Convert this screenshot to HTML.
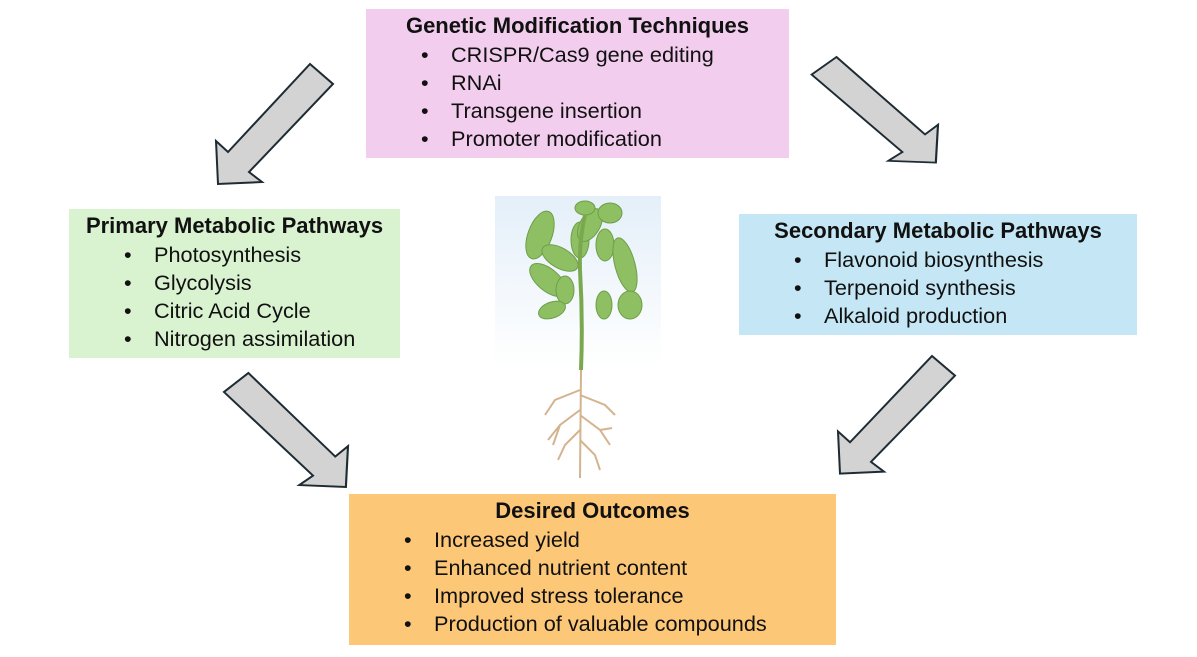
<!DOCTYPE html>
<html><head><meta charset="utf-8"><style>
body{margin:0;width:1197px;height:657px;background:#fff;position:relative;overflow:hidden;font-family:"Liberation Sans",sans-serif;color:#111}
.b{position:absolute;font-size:21.7px;line-height:28px}
.t{font-weight:bold;text-align:center;padding-top:3px;font-size:22px;white-space:nowrap}
.l{position:absolute;white-space:nowrap}
.l span{position:absolute;left:-30px}
</style></head><body>
<svg width="1197" height="657" style="position:absolute;left:0;top:0">
<defs><polygon id="ar" points="94,0 117,20 33,108 46,118 2,120 0,77 12,88" fill="#d3d3d3" stroke="#1e2b33" stroke-width="2" stroke-linejoin="miter"/>
<linearGradient id="sky" x1="0" y1="0" x2="0" y2="1"><stop offset="0" stop-color="#e4eff9"/><stop offset="0.6" stop-color="#fff"/></linearGradient></defs>
<use href="#ar" transform="translate(216,64)"/>
<use href="#ar" transform="translate(938,57) scale(-1.08,0.88)"/>
<use href="#ar" transform="translate(348,373) scale(-1.06,0.95)"/>
<use href="#ar" transform="translate(838,356) scale(1,0.98)"/>
<rect x="495" y="196" width="166" height="284" fill="url(#sky)"/>
<g fill="#8fbf63" stroke="#6d9f48" stroke-width="1">
<ellipse cx="540" cy="235" rx="12" ry="25" transform="rotate(20 540 235)"/>
<ellipse cx="548" cy="280" rx="11" ry="22" transform="rotate(-50 548 280)"/>
<ellipse cx="560" cy="258" rx="10" ry="20" transform="rotate(-60 560 258)"/>
<ellipse cx="580" cy="240" rx="9" ry="18"/>
<ellipse cx="590" cy="225" rx="10" ry="18" transform="rotate(30 590 225)"/>
<ellipse cx="610" cy="213" rx="12" ry="10"/>
<ellipse cx="605" cy="245" rx="9" ry="16"/>
<ellipse cx="625" cy="265" rx="10" ry="28" transform="rotate(-15 625 265)"/>
<ellipse cx="565" cy="290" rx="9" ry="14"/>
<ellipse cx="552" cy="310" rx="14" ry="8" transform="rotate(-20 552 310)"/>
<ellipse cx="604" cy="305" rx="8" ry="14"/>
<ellipse cx="630" cy="305" rx="12" ry="14"/>
<ellipse cx="585" cy="208" rx="10" ry="7"/>
</g>
<path d="M581 370 Q583 320 580 270 Q579 240 585 215" stroke="#7aa84f" stroke-width="4" fill="none"/>
<g stroke="#d4b48e" stroke-width="2" fill="none">
<path d="M581 370 L580 478"/>
<path d="M580 390 L555 400 L545 415 M580 395 L605 405 L615 415 M580 410 L560 425 L548 440 M580 415 L600 430 L610 445 M580 430 L565 445 L558 460 M580 440 L595 455 L600 470 M560 425 L553 445 M600 430 L612 428"/>
</g>
</svg>
<div class="b" style="left:366px;top:9px;width:423px;height:149px;background:#f2cdee">
<div class="t">Genetic Modification Techniques</div>
<div class="l" style="left:85px;top:32px"><span>•</span>CRISPR/Cas9 gene editing</div>
<div class="l" style="left:85px;top:60px"><span>•</span>RNAi</div>
<div class="l" style="left:85px;top:88px"><span>•</span>Transgene insertion</div>
<div class="l" style="left:85px;top:116px"><span>•</span>Promoter modification</div>
</div>
<div class="b" style="left:69px;top:209px;width:331px;height:149px;background:#d9f2d0">
<div class="t">Primary Metabolic Pathways</div>
<div class="l" style="left:85px;top:32px"><span>•</span>Photosynthesis</div>
<div class="l" style="left:85px;top:60px"><span>•</span>Glycolysis</div>
<div class="l" style="left:85px;top:88px"><span>•</span>Citric Acid Cycle</div>
<div class="l" style="left:85px;top:116px"><span>•</span>Nitrogen assimilation</div>
</div>
<div class="b" style="left:739px;top:214px;width:398px;height:121px;background:#c5e6f4">
<div class="t">Secondary Metabolic Pathways</div>
<div class="l" style="left:85px;top:32px"><span>•</span>Flavonoid biosynthesis</div>
<div class="l" style="left:85px;top:60px"><span>•</span>Terpenoid synthesis</div>
<div class="l" style="left:85px;top:88px"><span>•</span>Alkaloid production</div>
</div>
<div class="b" style="left:349px;top:494px;width:487px;height:151px;background:#fcc878">
<div class="t">Desired Outcomes</div>
<div class="l" style="left:85px;top:32px"><span>•</span>Increased yield</div>
<div class="l" style="left:85px;top:60px"><span>•</span>Enhanced nutrient content</div>
<div class="l" style="left:85px;top:88px"><span>•</span>Improved stress tolerance</div>
<div class="l" style="left:85px;top:116px"><span>•</span>Production of valuable compounds</div>
</div>
</body></html>
